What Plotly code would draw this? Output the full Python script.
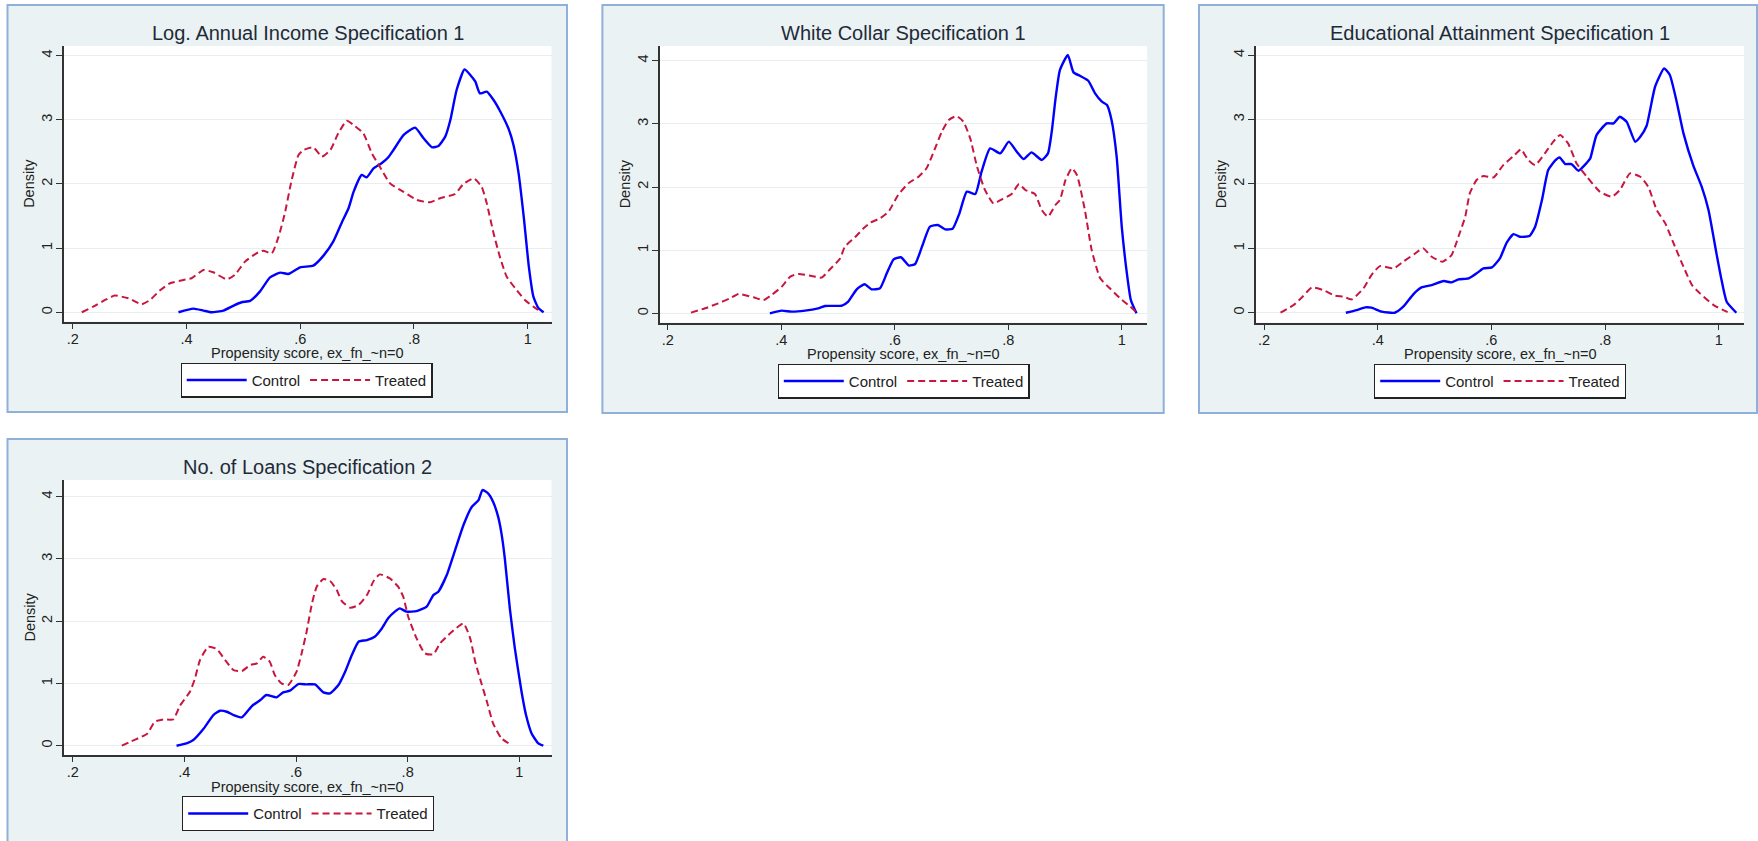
import plotly.graph_objects as go

# ---------------- data ----------------
titles = ["Log. Annual Income Specification 1", "White Collar Specification 1",
          "Educational Attainment Specification 1", "No. of Loans Specification 2"]
series_names = ["Control", "Treated"]
x_tickvals = [0.2, 0.4, 0.6, 0.8, 1.0]
x_ticktext = [".2", ".4", ".6", ".8", "1"]
y_tickvals = [0, 1, 2, 3, 4]
y_ticktext = ["0", "1", "2", "3", "4"]
x_title = "Propensity score, ex_fn_~n=0"
y_title = "Density"

inc_ctrl_x = [0.386, 0.412, 0.430, 0.444, 0.465, 0.483, 0.497, 0.512, 0.529, 0.547, 0.565, 0.579, 0.600, 0.623,
              0.641, 0.658, 0.673, 0.685, 0.694, 0.708, 0.717, 0.729, 0.743, 0.755, 0.764, 0.782, 0.802, 0.817,
              0.832, 0.843, 0.855, 0.864, 0.875, 0.889, 0.899, 0.908, 0.916, 0.928, 0.940, 0.952, 0.966, 0.975,
              0.984, 0.993, 1.002, 1.010, 1.019, 1.028]
inc_ctrl_y = [0.0, 0.057, 0.026, 0.0, 0.026, 0.104, 0.156, 0.177, 0.322, 0.545, 0.618, 0.597, 0.701, 0.727,
              0.883, 1.101, 1.397, 1.621, 1.881, 2.140, 2.104, 2.244, 2.322, 2.416, 2.530, 2.764, 2.878, 2.712,
              2.571, 2.592, 2.738, 2.997, 3.465, 3.787, 3.699, 3.595, 3.413, 3.439, 3.309, 3.127, 2.868, 2.608,
              2.166, 1.491, 0.712, 0.244, 0.062, 0.0]
inc_trt_x = [0.216, 0.236, 0.257, 0.274, 0.298, 0.321, 0.336, 0.353, 0.371, 0.395, 0.409, 0.430, 0.447, 0.471,
             0.485, 0.503, 0.523, 0.535, 0.550, 0.562, 0.573, 0.585, 0.597, 0.606, 0.623, 0.638, 0.653, 0.667,
             0.682, 0.696, 0.711, 0.726, 0.740, 0.758, 0.781, 0.805, 0.828, 0.846, 0.872, 0.887, 0.905, 0.919,
             0.928, 0.940, 0.951, 0.963, 0.978, 0.995, 1.010, 1.025]
inc_trt_y = [0.0, 0.088, 0.192, 0.260, 0.218, 0.125, 0.192, 0.338, 0.452, 0.504, 0.530, 0.660, 0.623, 0.514,
             0.582, 0.790, 0.919, 0.961, 0.919, 1.179, 1.543, 2.062, 2.452, 2.530, 2.571, 2.426, 2.530, 2.790,
             2.987, 2.904, 2.790, 2.478, 2.270, 2.010, 1.881, 1.751, 1.714, 1.777, 1.844, 2.000, 2.088, 1.958,
             1.699, 1.231, 0.868, 0.556, 0.374, 0.192, 0.088, 0.0]

wc_ctrl_x = [0.380, 0.401, 0.418, 0.442, 0.465, 0.477, 0.507, 0.518, 0.533, 0.547, 0.559, 0.574, 0.586, 0.598,
             0.611, 0.625, 0.636, 0.648, 0.662, 0.676, 0.689, 0.702, 0.714, 0.727, 0.742, 0.753, 0.768, 0.786,
             0.801, 0.815, 0.827, 0.841, 0.859, 0.870, 0.877, 0.883, 0.891, 0.905, 0.915, 0.927, 0.941, 0.953,
             0.965, 0.974, 0.982, 0.991, 1.000, 1.009, 1.016, 1.026]
wc_ctrl_y = [0.0, 0.042, 0.026, 0.042, 0.079, 0.116, 0.121, 0.185, 0.380, 0.459, 0.380, 0.396, 0.633, 0.855,
             0.887, 0.755, 0.781, 1.055, 1.372, 1.398, 1.330, 1.340, 1.583, 1.926, 1.889, 2.243, 2.612, 2.533,
             2.718, 2.559, 2.443, 2.549, 2.427, 2.533, 2.902, 3.377, 3.852, 4.090, 3.815, 3.757, 3.683, 3.483,
             3.351, 3.298, 3.061, 2.480, 1.372, 0.633, 0.211, 0.0]
wc_trt_x = [0.241, 0.266, 0.289, 0.310, 0.325, 0.351, 0.369, 0.383, 0.401, 0.416, 0.430, 0.454, 0.471, 0.486,
            0.504, 0.512, 0.530, 0.545, 0.557, 0.574, 0.589, 0.606, 0.624, 0.642, 0.656, 0.671, 0.683, 0.695,
            0.709, 0.721, 0.733, 0.745, 0.759, 0.774, 0.789, 0.806, 0.819, 0.830, 0.847, 0.859, 0.870, 0.883,
            0.891, 0.901, 0.912, 0.921, 0.935, 0.947, 0.962, 0.979, 0.997, 1.015, 1.028]
wc_trt_y = [0.011, 0.079, 0.158, 0.237, 0.306, 0.253, 0.211, 0.290, 0.422, 0.580, 0.623, 0.591, 0.565, 0.697,
            0.871, 1.055, 1.203, 1.346, 1.435, 1.504, 1.609, 1.873, 2.058, 2.164, 2.296, 2.612, 2.876, 3.061,
            3.124, 3.034, 2.770, 2.322, 1.953, 1.741, 1.805, 1.889, 2.047, 1.953, 1.889, 1.636, 1.530, 1.715,
            1.794, 2.111, 2.296, 2.190, 1.636, 1.003, 0.554, 0.396, 0.237, 0.106, 0.0]

edu_ctrl_x = [0.344, 0.363, 0.378, 0.389, 0.407, 0.430, 0.445, 0.463, 0.477, 0.495, 0.516, 0.530, 0.542, 0.560,
              0.574, 0.586, 0.601, 0.615, 0.627, 0.639, 0.650, 0.667, 0.677, 0.689, 0.700, 0.712, 0.720, 0.730,
              0.741, 0.753, 0.768, 0.774, 0.785, 0.803, 0.815, 0.826, 0.838, 0.853, 0.862, 0.873, 0.888, 0.904,
              0.914, 0.926, 0.938, 0.955, 0.970, 0.982, 0.996, 1.005, 1.014, 1.031]
edu_ctrl_y = [0.0, 0.041, 0.083, 0.078, 0.016, 0.0, 0.093, 0.290, 0.393, 0.429, 0.492, 0.471, 0.517, 0.533,
              0.611, 0.688, 0.704, 0.843, 1.087, 1.221, 1.180, 1.190, 1.335, 1.749, 2.215, 2.360, 2.411, 2.308,
              2.308, 2.204, 2.329, 2.396, 2.758, 2.939, 2.939, 3.043, 2.965, 2.655, 2.732, 2.898, 3.508, 3.793,
              3.690, 3.276, 2.784, 2.292, 1.956, 1.594, 0.921, 0.507, 0.171, 0.0]
edu_trt_x = [0.229, 0.252, 0.269, 0.284, 0.304, 0.325, 0.340, 0.354, 0.375, 0.389, 0.404, 0.428, 0.445, 0.466,
             0.480, 0.495, 0.514, 0.530, 0.542, 0.554, 0.562, 0.574, 0.586, 0.604, 0.621, 0.639, 0.652, 0.665,
             0.677, 0.694, 0.709, 0.721, 0.735, 0.750, 0.768, 0.791, 0.812, 0.826, 0.844, 0.862, 0.876, 0.891,
             0.906, 0.923, 0.938, 0.953, 0.967, 0.991, 1.014, 1.020]
edu_trt_y = [0.0, 0.119, 0.259, 0.393, 0.352, 0.264, 0.248, 0.207, 0.378, 0.585, 0.724, 0.688, 0.792, 0.921,
             0.999, 0.869, 0.792, 0.895, 1.180, 1.490, 1.853, 2.060, 2.122, 2.101, 2.292, 2.432, 2.536, 2.370,
             2.292, 2.473, 2.655, 2.758, 2.629, 2.318, 2.111, 1.878, 1.801, 1.904, 2.163, 2.111, 1.956, 1.594,
             1.387, 1.025, 0.714, 0.429, 0.300, 0.119, 0.016, 0.0]

loan_ctrl_x = [0.386, 0.404, 0.416, 0.434, 0.452, 0.464, 0.476, 0.488, 0.503, 0.521, 0.536, 0.547, 0.565, 0.577,
               0.589, 0.604, 0.619, 0.634, 0.649, 0.661, 0.676, 0.688, 0.700, 0.712, 0.727, 0.741, 0.753, 0.765,
               0.777, 0.786, 0.798, 0.816, 0.834, 0.846, 0.855, 0.870, 0.885, 0.900, 0.915, 0.927, 0.934, 0.944,
               0.953, 0.962, 0.968, 0.974, 0.983, 0.992, 1.004, 1.012, 1.022, 1.034, 1.043]
loan_ctrl_y = [0.0, 0.037, 0.091, 0.268, 0.493, 0.562, 0.546, 0.493, 0.455, 0.637, 0.734, 0.814, 0.776, 0.857,
               0.884, 0.991, 0.985, 0.985, 0.857, 0.841, 0.975, 1.189, 1.457, 1.671, 1.697, 1.751, 1.874, 2.046,
               2.153, 2.206, 2.153, 2.163, 2.233, 2.420, 2.474, 2.742, 3.143, 3.545, 3.839, 3.946, 4.107, 4.054,
               3.920, 3.679, 3.411, 3.009, 2.206, 1.564, 0.867, 0.493, 0.198, 0.037, 0.0]
loan_trt_x = [0.288, 0.303, 0.321, 0.334, 0.347, 0.362, 0.380, 0.392, 0.410, 0.419, 0.428, 0.443, 0.458, 0.473,
              0.488, 0.503, 0.518, 0.530, 0.541, 0.553, 0.562, 0.574, 0.586, 0.601, 0.610, 0.619, 0.628, 0.637,
              0.649, 0.661, 0.673, 0.682, 0.697, 0.712, 0.727, 0.739, 0.750, 0.768, 0.783, 0.792, 0.801, 0.816,
              0.831, 0.846, 0.858, 0.873, 0.885, 0.900, 0.912, 0.921, 0.933, 0.942, 0.953, 0.968, 0.986]
loan_trt_y = [0.0, 0.064, 0.134, 0.198, 0.386, 0.423, 0.423, 0.643, 0.867, 1.082, 1.376, 1.590, 1.553, 1.376,
              1.216, 1.199, 1.296, 1.323, 1.430, 1.349, 1.135, 1.001, 0.975, 1.189, 1.483, 1.831, 2.260, 2.554,
              2.677, 2.645, 2.501, 2.324, 2.217, 2.260, 2.420, 2.645, 2.752, 2.688, 2.554, 2.394, 2.072, 1.724,
              1.483, 1.467, 1.644, 1.778, 1.874, 1.965, 1.724, 1.349, 0.975, 0.707, 0.359, 0.118, 0.011]

panels = [
    (inc_ctrl_x, inc_ctrl_y, inc_trt_x, inc_trt_y),
    (wc_ctrl_x, wc_ctrl_y, wc_trt_x, wc_trt_y),
    (edu_ctrl_x, edu_ctrl_y, edu_trt_x, edu_trt_y),
    (loan_ctrl_x, loan_ctrl_y, loan_trt_x, loan_trt_y),
]

# ---------------- layout geometry (pixels) ----------------
W, H = 1758, 841
FONT = "Liberation Sans, Arial, sans-serif"
TXT = "#222222"
CTRL_COLOR = "#0000ff"
TRT_COLOR = "#c8163f"
BG = "#eaf2f3"
FRAME = "#8fb0da"

# plot areas: (left, right, top, bottom) in px
plot_px = [(64, 551.7, 46, 321.7), (660, 1147.3, 46, 322.7),
           (1256, 1744.3, 46, 322.7), (64, 551.7, 480, 755)]
x_ranges = [(0.1847, 1.0422), (0.1864, 1.045), (0.1859, 1.045), (0.1844, 1.058)]
y_ranges = [(-0.147, 4.151), (-0.149, 4.233), (-0.155, 4.141), (-0.149, 4.268)]
frames_px = [(7.5, 567, 5, 412), (602.4, 1163.7, 5, 413), (1199, 1757, 5, 413), (7.5, 567, 439, 860)]
legend_px = [(306.5, 380), (903.6, 381), (1500, 381), (308, 813.5)]


def px(x):
    return x / W


def py(y):
    return 1 - y / H


fig = go.Figure()
layout = dict(
    width=W, height=H, autosize=False,
    margin=dict(l=0, r=0, t=0, b=0),
    paper_bgcolor="white", plot_bgcolor="white",
    font=dict(family=FONT, size=14.5, color=TXT),
    shapes=[], annotations=[],
)

# outer (graph-region) frames first so that they sit underneath everything
for i in range(4):
    fl, fr, ft, fb = frames_px[i]
    layout["shapes"].append(dict(type="rect", xref="paper", yref="paper", layer="below",
                                 x0=px(fl), x1=px(fr), y0=py(fb), y1=py(ft),
                                 fillcolor=BG, line=dict(color=FRAME, width=2)))

for i, (cx, cy, tx, ty) in enumerate(panels):
    n = "" if i == 0 else str(i + 1)
    lg = "legend" if i == 0 else "legend" + str(i + 1)
    fig.add_trace(go.Scatter(x=cx, y=cy, mode="lines", name=series_names[0],
                             line=dict(color=CTRL_COLOR, width=2.4, shape="spline", smoothing=0.5),
                             xaxis="x" + n, yaxis="y" + n, legend=lg))
    fig.add_trace(go.Scatter(x=tx, y=ty, mode="lines", name=series_names[1],
                             line=dict(color=TRT_COLOR, width=2, dash="7px,4px", shape="spline", smoothing=0.5),
                             xaxis="x" + n, yaxis="y" + n, legend=lg))
    l, r, t, b = plot_px[i]
    layout["xaxis" + n] = dict(
        domain=[px(l), px(r)], range=list(x_ranges[i]), anchor="y" + n,
        tickvals=x_tickvals, ticktext=x_ticktext, ticks="outside", ticklen=5, tickwidth=1.3,
        tickcolor="#333333", showline=True, linecolor="#333333", linewidth=1.6,
        showgrid=False, zeroline=False, tickfont=dict(size=14.5, color=TXT),
        ticklabelstandoff=-2,
    )
    layout["yaxis" + n] = dict(
        domain=[py(b), py(t)], range=list(y_ranges[i]), anchor="x" + n,
        tickvals=y_tickvals, ticktext=y_ticktext, tickangle=-90, ticks="outside", ticklen=6, tickwidth=1.3,
        tickcolor="#333333", showline=True, linecolor="#333333", linewidth=1.6,
        showgrid=True, gridcolor="#e6eef0", gridwidth=1, zeroline=False,
        tickfont=dict(size=14.5, color=TXT), ticklabelstandoff=-2,
    )
    # white plot region (inside the subplot layer, under the grid)
    layout["shapes"].append(dict(type="rect", xref="x" + n, yref="y" + n, layer="below",
                                 x0=x_ranges[i][0], x1=x_ranges[i][1], y0=y_ranges[i][0], y1=y_ranges[i][1],
                                 fillcolor="white", line=dict(width=0)))
    # panel title
    layout["annotations"].append(dict(text=titles[i], xref="paper", yref="paper",
                                      x=px((l + r) / 2), y=py(t - 13), xanchor="center", yanchor="middle",
                                      showarrow=False, font=dict(size=20, color="#1f2a38")))
    # axis titles
    layout["annotations"].append(dict(text=x_title, xref="paper", yref="paper",
                                      x=px((l + r) / 2), y=py(b + 31.5), xanchor="center", yanchor="middle",
                                      showarrow=False, font=dict(size=14.5, color=TXT)))
    layout["annotations"].append(dict(text=y_title, xref="paper", yref="paper", textangle=-90,
                                      x=px(l - 35), y=py((t + b) / 2), xanchor="center", yanchor="middle",
                                      showarrow=False, font=dict(size=14.5, color=TXT)))
    lx, ly = legend_px[i]
    layout[lg] = dict(orientation="h", x=px(lx), y=py(ly), xanchor="center", yanchor="middle",
                      bgcolor="white", bordercolor=TXT, borderwidth=1.2,
                      font=dict(size=15, color=TXT), itemwidth=60,
                      traceorder="normal", itemclick=False, itemdoubleclick=False)

fig.update_layout(**layout)
fig.write_html("out.html", config={"displayModeBar": False},
               post_script="document.body.style.margin='0';document.body.style.overflow='hidden';")
